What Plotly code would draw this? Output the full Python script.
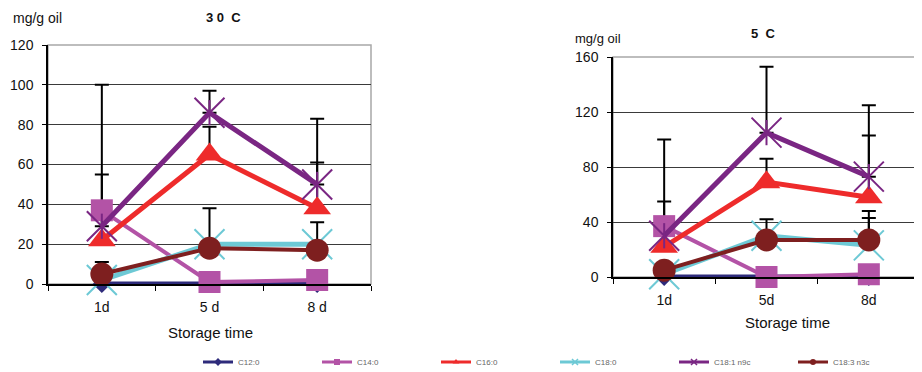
import plotly.graph_objects as go

W, H = 922, 372
OFF = 8  # page body margin offset of the figure inside the window

# ---------------- data ----------------
series_names = ["C12:0", "C14:0", "C16:0", "C18:0", "C18:1 n9c", "C18:3 n3c"]

days_30 = ["1d", "5 d", "8 d"]
c12_30 = [0, 0, 0]
c14_30 = [37, 1, 2]
c16_30 = [22, 65, 38]
c18_30 = [2, 20, 20]
c181_30 = [29, 86, 50]
c183_30 = [5, 18, 17]
# upper ends of the error bars (None = no bar)
c16_30_top = [55, 79, 61]
c181_30_top = [100, 97, 83]
c183_30_top = [11, 38, 31]
c18_30_top = [None, None, None]

days_5 = ["1d", "5d", "8d"]
c12_5 = [0, 0, 0]
c14_5 = [37, 0, 2]
c16_5 = [22, 69, 58]
c18_5 = [2, 30, 23]
c181_5 = [30, 105, 73]
c183_5 = [5, 27, 27]
c16_5_top = [55, 86, 103]
c181_5_top = [100, 153, 125]
c183_5_top = [None, 42, 48]
c18_5_top = [None, None, 43]

y_ticks_30 = [0, 20, 40, 60, 80, 100, 120]
y_ticks_5 = [0, 40, 80, 120, 160]

# ---------------- styles ----------------
colors = ["#2E2B7B", "#B353A6", "#EE2B2B", "#6DC9D5", "#7A2683", "#7E1F1F"]
symbols = ["diamond", "square", "triangle-up", "x-thin-open", "x-thin-open", "circle"]
msizes = [14, 22, 24, 30, 30, 23]
lwidths = [5, 4, 5, 5, 5, 4]
FONT = "Liberation Sans, Arial, sans-serif"

fig = go.Figure()


def px_x(p):
    return (p - OFF) / W


def px_y(p):
    return 1 - (p - OFF) / H


panels = [
    dict(x=days_30, series=[c12_30, c14_30, c16_30, c18_30, c181_30, c183_30],
         tops=[None, None, c16_30_top, c18_30_top, c181_30_top, c183_30_top],
         xa="x", ya="y"),
    dict(x=days_5, series=[c12_5, c14_5, c16_5, c18_5, c181_5, c183_5],
         tops=[None, None, c16_5_top, c18_5_top, c181_5_top, c183_5_top],
         xa="x2", ya="y2"),
]

for p in panels:
    # error bars first (drawn behind all markers)
    for i, top in enumerate(p["tops"]):
        if top is None:
            continue
        vals = p["series"][i]
        ys = [v if t is not None else None for v, t in zip(vals, top)]
        plus = [(t - v) if t is not None else 0 for v, t in zip(vals, top)]
        fig.add_trace(go.Scatter(
            x=p["x"], y=ys, mode="markers", xaxis=p["xa"], yaxis=p["ya"],
            marker=dict(size=1, color="rgba(0,0,0,0)"),
            error_y=dict(type="data", symmetric=False, array=plus,
                         arrayminus=[0] * len(plus), color="black",
                         thickness=2, width=7),
            showlegend=False, hoverinfo="skip", cliponaxis=False))
    # series
    for i, vals in enumerate(p["series"]):
        open_sym = symbols[i].endswith("open")
        fig.add_trace(go.Scatter(
            x=p["x"], y=vals, mode="lines+markers", xaxis=p["xa"], yaxis=p["ya"],
            name=series_names[i], showlegend=False, cliponaxis=False,
            line=dict(color=colors[i], width=lwidths[i]),
            marker=dict(symbol=symbols[i], size=msizes[i], color=colors[i],
                        line=dict(color=colors[i], width=2 if open_sym else 0))))
        if i == 4:  # vertical stroke of the star marker
            fig.add_trace(go.Scatter(
                x=p["x"], y=vals, mode="markers", xaxis=p["xa"], yaxis=p["ya"],
                showlegend=False, cliponaxis=False, hoverinfo="skip",
                marker=dict(symbol="line-ns-open", size=18, color=colors[i],
                            line=dict(color=colors[i], width=2))))

# legend entries
for i, n in enumerate(series_names):
    fig.add_trace(go.Scatter(
        x=[None], y=[None], mode="lines+markers", name=n,
        line=dict(color=colors[i], width=3),
        marker=dict(symbol=symbols[i], size=6, color=colors[i],
                    line=dict(color=colors[i], width=1.5 if symbols[i].endswith("open") else 0))))

axis_common = dict(showline=True, linecolor="black", linewidth=1.5,
                   tickfont=dict(family=FONT, size=14, color="#111"))

xdoms = [(48, 371), (613, 920)]
ydoms = [(45, 284), (57, 277)]
yranges = [(0, 120, y_ticks_30), (0, 160, y_ticks_5)]

for k in range(2):
    sx = "" if k == 0 else "2"
    fig.update_layout(**{
        "xaxis" + sx: dict(domain=[px_x(xdoms[k][0]), px_x(xdoms[k][1])],
                           anchor="y" + sx, type="category", range=[-0.5, 2.5],
                           tickson="boundaries", ticks="outside", ticklen=5,
                           ticklabelstandoff=9,
                           tickcolor="black", showgrid=False, **axis_common),
        "yaxis" + sx: dict(domain=[px_y(ydoms[k][1]), px_y(ydoms[k][0])],
                           anchor="x" + sx, range=[yranges[k][0], yranges[k][1]],
                           tickvals=yranges[k][2], ticks="outside", ticklen=4,
                           ticklabelstandoff=6,
                           tickcolor="black", showgrid=True, gridcolor="#3a3a3a",
                           gridwidth=1, zeroline=False, **axis_common),
    })
    fig.add_shape(type="rect", xref="x%s domain" % sx, yref="y%s domain" % sx,
                  x0=0, x1=1, y0=0, y1=1, line=dict(color="#A8A8A8", width=1.5),
                  layer="below")

annots = [
    dict(text="mg/g oil", x=11, y=18, xanchor="left", size=14, bold=False),
    dict(text="3 0  C", x=223, y=18, xanchor="center", size=13, bold=True),
    dict(text="Storage time", x=210, y=332, xanchor="center", size=15, bold=False),
    dict(text="mg/g oil", x=573, y=38, xanchor="left", size=13, bold=False),
    dict(text="5  C", x=763, y=34, xanchor="center", size=13, bold=True),
    dict(text="Storage time", x=787, y=322, xanchor="center", size=15, bold=False),
]
for a in annots:
    fig.add_annotation(
        text="<b>%s</b>" % a["text"] if a["bold"] else a["text"],
        xref="paper", yref="paper", x=px_x(a["x"]), y=px_y(a["y"]),
        xanchor=a["xanchor"], yanchor="middle", showarrow=False,
        font=dict(family=FONT, size=a["size"], color="#111"))

fig.update_layout(
    width=W, height=H, margin=dict(l=0, r=0, t=0, b=0, autoexpand=False),
    paper_bgcolor="white", plot_bgcolor="white",
    font=dict(family=FONT),
    legend=dict(orientation="h", x=px_x(198), y=px_y(362), xanchor="left",
                yanchor="middle", font=dict(family=FONT, size=8, color="#666"),
                entrywidth=74, entrywidthmode="pixels", itemwidth=30,
                bgcolor="rgba(0,0,0,0)"),
)

fig.write_html("out.html")
